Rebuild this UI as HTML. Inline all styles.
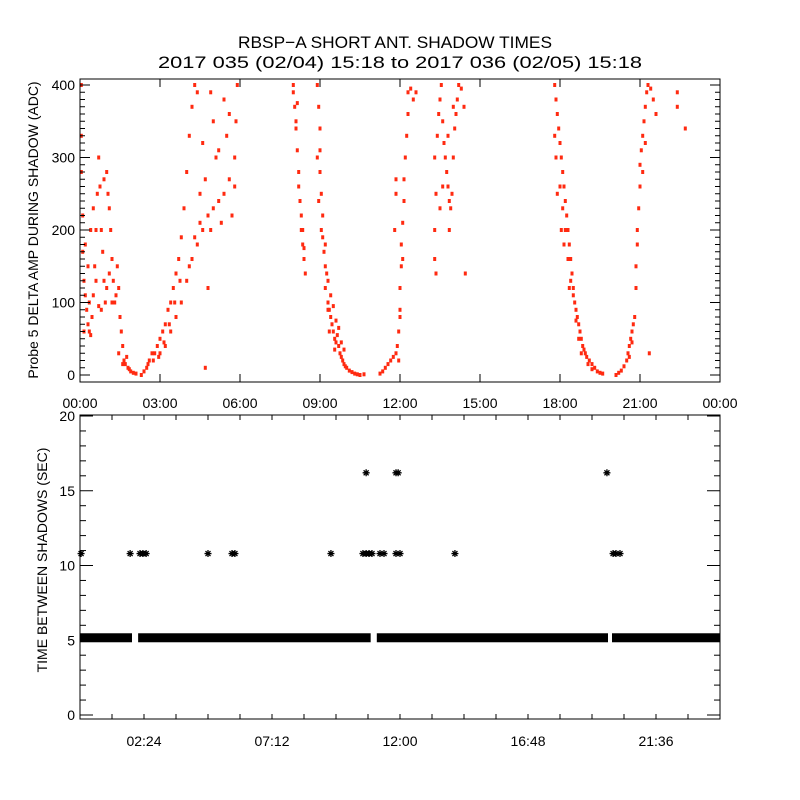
<!DOCTYPE html>
<html><head><meta charset="utf-8"><style>
html,body{margin:0;padding:0;background:#fff;}
svg{display:block;font-family:"Liberation Sans",sans-serif;}
</style></head><body>
<svg id="chart" width="800" height="800" xmlns="http://www.w3.org/2000/svg">
<rect x="0" y="0" width="800" height="800" fill="#fff"/>
<text x="395" y="48" font-size="17" text-anchor="middle" textLength="314" lengthAdjust="spacingAndGlyphs">RBSP−A SHORT ANT. SHADOW TIMES</text>
<text x="400" y="68" font-size="17" text-anchor="middle" textLength="484" lengthAdjust="spacingAndGlyphs">2017 035 (02/04) 15:18 to 2017 036 (02/05) 15:18</text>
<g id="topPanel"></g>
<g id="botPanel"></g>
</svg>
<script>
// ---- top panel data ----
const topXTickLabels = ["00:00","03:00","06:00","09:00","12:00","15:00","18:00","21:00","00:00"];
const topYTicks = [0,100,200,300,400];
const shadowPoints = [
[0.05,400],[0.05,330],[0.05,280],[0.1,220],[0.1,170],[0.15,130],[0.2,110],[0.25,90],[0.3,70],[0.35,60],[0.4,55],[0.45,80],[0.5,110],[0.55,150],[0.6,200],[0.65,250],[0.7,300],[0.75,260],[0.8,200],[0.85,170],[0.9,130],[0.95,100],[0.9,270],[1.0,280],[1.05,250],[1.1,230],[1.15,200],[1.2,160],[1.25,130],[1.3,100],[1.35,110],[1.4,150],[1.45,120],[1.5,80],[1.55,60],[1.6,40],[1.65,20],[1.7,15],[1.75,25],[1.8,10],[1.85,8],[1.9,5],[2.0,3],[2.1,2],[0.2,180],[0.3,150],[0.4,200],[0.5,230],[0.6,130],[0.7,95],[0.8,90],[1.0,120],[1.1,140],[1.2,100],[0.15,60],[0.35,100],[1.45,30],[1.6,15],
[2.3,0],[2.4,5],[2.5,10],[2.6,20],[2.7,30],[2.8,30],[2.9,40],[3.0,50],[3.1,60],[3.2,70],[3.3,90],[3.4,100],[3.5,120],[3.6,140],[3.7,160],[3.8,190],[3.9,230],[4.0,280],[4.1,330],[4.2,370],[4.3,400],[3.0,30],[3.2,40],[3.4,60],[3.6,80],[3.8,100],[4.0,130],[4.2,160],[4.4,180],[4.6,200],[4.8,220],[5.0,230],[5.2,240],[5.4,250],[5.6,270],[5.8,300],[5.9,400],[5.85,350],[4.5,250],[4.7,270],[4.9,200],[5.1,300],[5.3,210],[5.5,330],[5.7,220],[4.6,320],[5.0,350],[5.4,380],[4.4,390],[4.9,390],[5.2,310],[5.6,360],[5.8,260],[4.8,120],[4.7,10],[2.55,15],[2.75,20],[2.95,25],[3.15,45],[3.35,70],[3.55,100],[3.75,130],[4.1,150],[4.3,190],[4.5,210],
[8.0,400],[8.05,370],[8.1,340],[8.15,310],[8.0,390],[8.2,280],[8.25,240],[8.3,200],[8.35,180],[8.4,160],[8.45,140],[8.3,220],[8.2,260],[8.1,350],[8.15,375],[8.35,200],[8.4,175],
[8.9,400],[8.95,370],[9.0,340],[8.9,300],[9.0,280],[9.05,250],[9.1,220],[9.1,190],[9.15,170],[9.2,150],[9.25,140],[9.0,310],[8.95,240],[9.05,200],[9.2,180],[9.3,130],
[9.2,120],[9.3,100],[9.35,90],[9.4,80],[9.45,70],[9.5,60],[9.55,50],[9.6,45],[9.65,55],[9.7,40],[9.75,30],[9.8,25],[9.85,20],[9.9,15],[9.95,12],[10.0,10],[10.1,6],[10.2,4],[10.3,2],[10.4,1],[10.5,0],[10.65,1],[9.3,90],[9.4,110],[9.5,95],[9.6,75],[9.7,65],[9.8,45],[9.9,35],[9.35,60],[9.55,35],
[11.25,2],[11.35,5],[11.45,10],[11.55,15],[11.65,20],[11.75,25],[11.85,30],[11.9,40],[11.95,60],[12.0,90],[12.0,120],[12.05,150],[12.05,180],[12.1,210],[12.15,240],[12.15,270],[12.2,300],[12.25,330],[12.3,360],[12.3,390],[12.0,80],[12.1,160],[11.95,20],[12.4,395],[12.5,380],[12.6,390],[11.8,200],[11.85,250],[11.85,270],
[13.3,200],[13.35,250],[13.3,300],[13.4,330],[13.45,360],[13.5,380],[13.55,400],[13.6,350],[13.65,320],[13.7,300],[13.75,280],[13.8,260],[13.85,240],[13.9,230],[13.95,250],[14.0,300],[14.05,340],[14.1,360],[14.15,380],[14.2,400],[13.3,160],[13.35,140],[13.5,230],[13.6,260],[13.8,330],[14.0,370],[14.3,395],[14.4,370],[14.45,140],[13.85,200],
[17.8,400],[17.85,380],[17.9,360],[17.95,340],[18.0,320],[18.05,300],[18.1,280],[18.15,260],[18.2,240],[18.25,220],[18.3,200],[18.35,180],[18.4,160],[18.45,140],[18.5,120],[18.55,100],[18.6,90],[18.65,80],[18.7,70],[18.75,60],[18.8,50],[18.85,40],[18.9,35],[18.95,30],[19.0,25],[19.1,20],[19.2,15],[19.3,10],[19.4,5],[19.5,3],[19.6,2],[17.85,300],[17.9,250],[18.0,260],[18.1,230],[18.2,200],[18.3,160],[18.4,130],[18.5,110],[18.6,75],[18.7,50],[18.8,30],[17.8,330],[18.05,200],[18.15,180],[18.35,120],[19.05,15],[19.2,8],
[20.1,0],[20.2,3],[20.3,6],[20.4,12],[20.5,20],[20.55,30],[20.6,40],[20.65,50],[20.7,60],[20.75,70],[20.8,80],[20.85,120],[20.85,150],[20.9,180],[20.9,200],[20.95,230],[21.0,260],[21.0,290],[21.05,310],[21.1,330],[21.15,350],[21.2,370],[21.25,390],[21.3,400],[21.4,395],[21.5,380],[21.6,360],[21.1,280],[21.2,320],[20.6,25],[20.7,45],[21.35,30],[22.4,390],[22.4,370],[22.7,340]
];
// ---- bottom panel data ----
const botXTickLabels = ["02:24","07:12","12:00","16:48","21:36"];
const botXTickHours = [2.4,7.2,12.0,16.8,21.6];
const botYTicks = [0,5,10,15,20];
const baseValue = 5.4;
const baseIntervals = [[0,1.95],[2.18,10.9],[11.13,19.8],[19.95,24]];
const midTimes = [0.04,1.88,2.25,2.36,2.48,4.8,5.7,5.81,9.41,10.61,10.73,10.84,10.95,11.25,11.4,11.85,12.0,14.06,19.99,20.1,20.25];
const midValue = 10.8;
const highTimes = [10.73,11.85,11.93,19.76];
const highValue = 16.2;

const NS="http://www.w3.org/2000/svg";
function mk(parent,tag,attrs){const e=document.createElementNS(NS,tag);for(const k in attrs)e.setAttribute(k,attrs[k]);parent.appendChild(e);return e;}
const L=80,R=720;
const xH=h=>L+h*(R-L)/24;
// top axes
const tY0=375,tYs=0.725,tTop=79,tBot=382;
const yT=v=>tY0-v*tYs;
const topG=document.getElementById('topPanel');
shadowPoints.forEach(p=>{
  const r=mk(topG,'rect',{x:(xH(p[0])-1.5).toFixed(1),y:(yT(p[1])-2).toFixed(1),width:3,height:4,fill:'#ff2a10'});
  
  
});
const tf=mk(topG,'rect',{x:L,y:tTop,width:R-L,height:tBot-tTop,fill:'none',stroke:'#000','stroke-width':1});


for(let v=0;v<=400;v+=10){
  const len=(v%100===0)?10:5;
  mk(topG,'line',{x1:L,x2:L+len,y1:yT(v),y2:yT(v),stroke:'#000'});
  mk(topG,'line',{x1:R,x2:R-len,y1:yT(v),y2:yT(v),stroke:'#000'});
}
topYTicks.forEach(v=>{
  const t=mk(topG,'text',{x:75,y:yT(v)+5,'font-size':14,'text-anchor':'end'});t.textContent=v;
  
  
});
topXTickLabels.forEach((s,i)=>{
  const x=xH(i*3);
  mk(topG,'line',{x1:x,x2:x,y1:tBot,y2:tBot-8,stroke:'#000'});
  mk(topG,'line',{x1:x,x2:x,y1:tTop,y2:tTop+8,stroke:'#000'});
  const t=mk(topG,'text',{x:x,y:408,'font-size':14,'text-anchor':'middle'});t.textContent=s;
  
  
});
const ty=mk(topG,'text',{x:0,y:0,'font-size':14,'text-anchor':'middle',transform:'translate(38,230) rotate(-90)'});
ty.textContent='Probe 5 DELTA AMP DURING SHADOW (ADC)';



// bottom axes
const bY0=715,bTop=415,bBot=719,bS=14.95;
const yB=v=>bY0-v*bS;
const botG=document.getElementById('botPanel');
function star(h,v){
  const x=xH(h),y=yB(v);
  return mk(botG,'path',{d:`M${x-3.5},${y}H${x+3.5}M${x},${y-3.5}V${y+3.5}M${x-2.5},${y-2.5}L${x+2.5},${y+2.5}M${x-2.5},${y+2.5}L${x+2.5},${y-2.5}`,stroke:'#000','stroke-width':1.3});
}
baseIntervals.forEach(iv=>{
  const r=mk(botG,'rect',{x:xH(iv[0]),y:yB(baseValue)-1,width:xH(iv[1])-xH(iv[0]),height:9,fill:'#000'});
  
  
});
midTimes.forEach(h=>{
  const s=star(h,midValue);
  
  
});
highTimes.forEach(h=>{
  const s=star(h,highValue);
  
  
});
const bf=mk(botG,'rect',{x:L,y:bTop,width:R-L,height:bBot-bTop,fill:'none',stroke:'#000','stroke-width':1});


for(let v=0;v<=20;v+=1){
  const len=(v%5===0)?13:6;
  mk(botG,'line',{x1:L,x2:L+len,y1:yB(v),y2:yB(v),stroke:'#000'});
  mk(botG,'line',{x1:R,x2:R-len,y1:yB(v),y2:yB(v),stroke:'#000'});
}
botYTicks.forEach(v=>{
  const t=mk(botG,'text',{x:75,y:yB(v)+5,'font-size':14,'text-anchor':'end'});t.textContent=v;
  
  
});
for(let k=1;k<20;k++){
  const x=xH(k*1.2);
  mk(botG,'line',{x1:x,x2:x,y1:bBot,y2:bBot-5,stroke:'#000'});
  mk(botG,'line',{x1:x,x2:x,y1:bTop,y2:bTop+5,stroke:'#000'});
}
botXTickLabels.forEach((s,i)=>{
  const t=mk(botG,'text',{x:xH(botXTickHours[i]),y:746,'font-size':14,'text-anchor':'middle'});t.textContent=s;
  
  
});
const by=mk(botG,'text',{x:0,y:0,'font-size':14,'text-anchor':'middle',transform:'translate(47,560) rotate(-90)'});
by.textContent='TIME BETWEEN SHADOWS (SEC)';


</script>
</body></html>
